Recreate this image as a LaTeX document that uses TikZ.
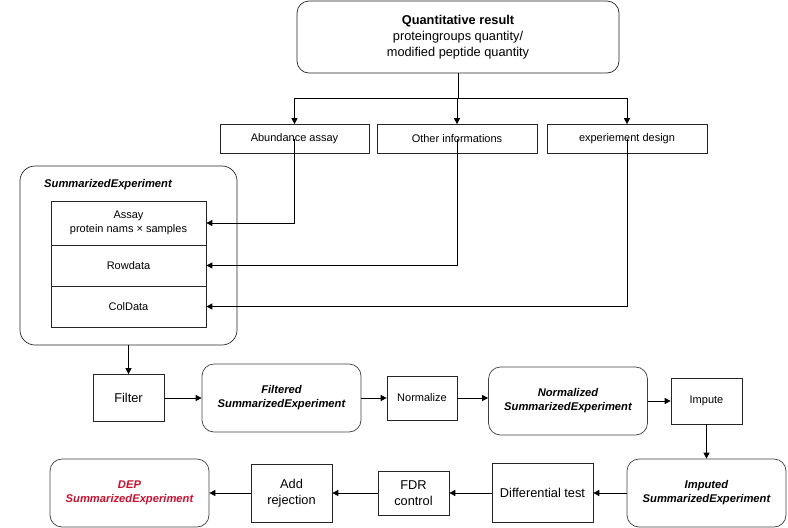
\documentclass[tikz,border=0pt]{standalone}
\usepackage{fontspec}
\setmainfont{Liberation Sans}
\usetikzlibrary{arrows.meta}
\definecolor{depred}{RGB}{200,16,46}

\begin{document}
\begin{tikzpicture}[x=1pt, y=-1pt, every node/.style={align=center, inner sep=0pt, font=\fontsize{11}{13.5}\selectfont},
  box/.style={draw=black!85, line width=0.7pt},
  rbox/.style={draw=black!75, line width=0.7pt, rounded corners=12pt, minimum width=159pt, minimum height=68pt, font=\fontsize{11.2}{14}\selectfont\bfseries\itshape},
  big/.style={font=\fontsize{12.8}{16}\selectfont},
  arr/.style={-{Triangle[length=6pt,width=6pt]}, line width=0.8pt}]
  \useasboundingbox (0,0) rectangle (788,528);

  % Input and its three parts
  \node[box, rounded corners=12pt, minimum width=322pt, minimum height=72pt, font=\fontsize{12.8}{16}\selectfont] (quant) at (458,37)
    {\textbf{Quantitative result}\\proteingroups quantity/\\modified peptide quantity};
  \node[box, minimum width=149pt, minimum height=29pt] (abund) at (294.5,139) {Abundance assay};
  \node[box, minimum width=160pt, minimum height=29pt] (other) at (457,139) {Other informations};
  \node[box, minimum width=160pt, minimum height=29pt] (design) at (627,139) {experiement design};
  \coordinate (split) at (458,98);

  % SummarizedExperiment container
  \node[box, rounded corners=15pt, minimum width=217pt, minimum height=179pt] (se) at (128.5,255.5) {};
  \node[anchor=west, font=\fontsize{11.2}{13}\selectfont\bfseries\itshape] (setitle) at (44,185) {SummarizedExperiment};
  \node[box, minimum width=155pt, minimum height=44pt] (assay) at (128.5,223) {Assay\\protein nams × samples};
  \node[box, minimum width=155pt, minimum height=41pt] (rowdata) at (128.5,265.5) {Rowdata};
  \node[box, minimum width=155pt, minimum height=41pt] (coldata) at (128.5,306.5) {ColData};

  % Processing steps, first row
  \node[box, big, minimum width=71pt, minimum height=47pt] (filter) at (128.5,398) {Filter};
  \node[rbox] (filtered) at (281.5,398) {Filtered\\SummarizedExperiment};
  \node[box, minimum width=70pt, minimum height=44pt] (normalize) at (422,398) {Normalize};
  \node[rbox] (normalized) at (568,401) {Normalized\\SummarizedExperiment};
  \node[box, minimum width=71pt, minimum height=46pt] (impute) at (706.5,401) {Impute};

  % Second row, right to left
  \node[rbox] (imputed) at (706.5,493) {Imputed\\SummarizedExperiment};
  \node[box, big, minimum width=101pt, minimum height=59pt] (difftest) at (542.5,493) {Differential test};
  \node[box, big, minimum width=71pt, minimum height=44pt] (fdr) at (413.5,493) {FDR\\control};
  \node[box, big, minimum width=81pt, minimum height=58pt] (addrej) at (291.5,493) {Add\\rejection};
  \node[rbox, text=depred] (dep) at (129.5,493) {DEP\\SummarizedExperiment};

  % Connectors
  \draw[line width=0.8pt] (quant.south) -- (split);
  \foreach \part in {abund,other,design}
    \draw[arr] (split) -| (\part.north);
  \draw[arr] (abund.center) |- (assay.east);
  \draw[arr] (other.center) |- (rowdata.east);
  \draw[arr] (design.center) |- (coldata.east);
  \draw[arr] (se.south) -- (filter.north);
  \draw[arr] (filter) -- (filtered);
  \draw[arr] (filtered) -- (normalize);
  \draw[arr] (normalize.east) -- (normalize.east -| normalized.west);
  \draw[arr] (normalized) -- (impute);
  \draw[arr] (impute) -- (imputed);
  \foreach \a/\b in {imputed/difftest, difftest/fdr, fdr/addrej, addrej/dep}
    \draw[arr] (\a) -- (\b);
\end{tikzpicture}
\end{document}
